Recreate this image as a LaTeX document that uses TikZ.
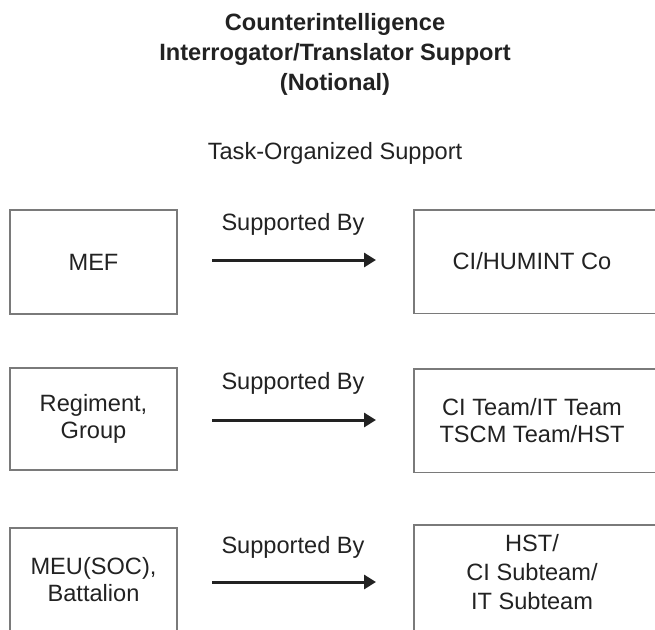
\documentclass[tikz,border=0pt]{standalone}
\usepackage{fontspec}
\setmainfont{Liberation Sans}
\usetikzlibrary{arrows.meta}
\definecolor{boxgray}{HTML}{7A7A7A}
\definecolor{inkgray}{HTML}{222222}
\tikzset{
  txt/.style={font=\fontsize{23.6}{27}\selectfont, text=inkgray, align=center, inner sep=0pt},
  ttl/.style={font=\fontsize{23.6}{30}\selectfont\bfseries, text=inkgray, align=center, inner sep=0pt},
  boxline/.style={draw=boxgray, line width=1.4pt},
  supp/.style={draw=inkgray, line width=3pt, -{Triangle[length=12pt,width=14pt]}},
}
\begin{document}
\begin{tikzpicture}[x=1pt,y=-1pt]
\useasboundingbox[fill=white] (0,0) rectangle (655,629);
% title
\node[ttl] (title) at (335,54) {Counterintelligence\\Interrogator/Translator Support\\(Notional)};
\node[txt] (sub) at (335,153) {Task-Organized Support};
% row 1
\node[txt, boxline, minimum width=167pt, minimum height=104pt] (l1) at (93.5,262) {MEF};
\node[txt, minimum width=236pt, minimum height=103pt] (r1) at (532,261.5) {CI/HUMINT Co};
\draw[boxline] ([xshift=20pt]r1.north east) -- (r1.north west) -- (r1.south west) -- ([xshift=20pt]r1.south east);
\coordinate (a1s) at (212,260);
\coordinate (a1e) at (376,260);
\draw[supp] (a1s) -- (a1e);
\node[txt] (s1) at (293,224) {Supported By};
% row 2
\node[txt, boxline, minimum width=167pt, minimum height=102pt] (l2) at (93.5,419) {Regiment,\\Group};
\node[txt, minimum width=236pt, minimum height=103pt] (r2) at (532,420.5) {CI Team/IT Team\\TSCM Team/HST};
\draw[boxline] ([xshift=20pt]r2.north east) -- (r2.north west) -- (r2.south west) -- ([xshift=20pt]r2.south east);
\coordinate (a2s) at (212,420);
\coordinate (a2e) at (376,420);
\draw[supp] (a2s) -- (a2e);
\node[txt] (s2) at (293,383) {Supported By};
% row 3
\node[txt] (l3) at (93.5,580) {MEU(SOC),\\Battalion};
\draw[boxline] (10,640) -- (10,528) -- (177,528) -- (177,640);
\node[txt] (r3) at (532,572) {HST/\\[2pt]CI Subteam/\\[2pt]IT Subteam};
\draw[boxline] (414,640) -- (414,525) -- (670,525);
\coordinate (a3s) at (212,582);
\coordinate (a3e) at (376,582);
\draw[supp] (a3s) -- (a3e);
\node[txt] (s3) at (293,547) {Supported By};
\end{tikzpicture}
\end{document}
